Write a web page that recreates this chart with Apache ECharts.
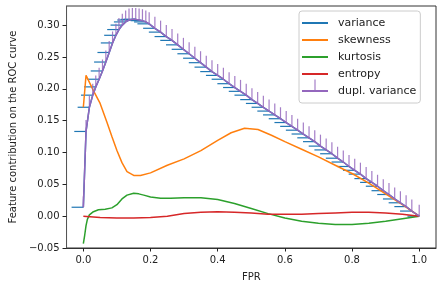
<!DOCTYPE html>
<html>
<head>
<meta charset="utf-8">
<script src="https://cdn.jsdelivr.net/npm/echarts@6/dist/echarts.min.js"></script>
<style>
html,body{margin:0;padding:0;background:#fff;}
#chart{width:443px;height:290px;}
</style>
</head>
<body>
<div id="chart"></div>
<script>
// ---- data ----
const fpr = [0, 0.008, 0.018, 0.028, 0.037, 0.047, 0.057, 0.067, 0.077, 0.087, 0.097, 0.106, 0.116, 0.126, 0.136, 0.146, 0.156, 0.166, 0.176, 0.186, 0.196,
  0.213, 0.23, 0.247, 0.264, 0.281, 0.298, 0.315, 0.332, 0.349, 0.366, 0.383, 0.4, 0.417, 0.434, 0.451, 0.468, 0.485, 0.502, 0.519, 0.536, 0.553, 0.57, 0.587, 0.604, 0.621, 0.638, 0.655, 0.672, 0.689, 0.706, 0.723, 0.74, 0.757, 0.774, 0.791, 0.808, 0.825, 0.842, 0.859, 0.876, 0.893, 0.91, 0.927, 0.944, 0.961, 0.978, 1.0];
const variance = [0.014, 0.133, 0.171, 0.190, 0.203, 0.215, 0.228, 0.242, 0.257, 0.272, 0.284, 0.293, 0.300, 0.305, 0.308, 0.309, 0.309, 0.308, 0.307, 0.305, 0.302,
  0.295, 0.289, 0.282, 0.276, 0.269, 0.262, 0.255, 0.248, 0.241, 0.234, 0.227, 0.221, 0.215, 0.208, 0.202, 0.196, 0.190, 0.183, 0.177, 0.171, 0.165, 0.159, 0.153, 0.147, 0.141, 0.135, 0.129, 0.123, 0.117, 0.110, 0.104, 0.098, 0.091, 0.085, 0.078, 0.072, 0.066, 0.059, 0.053, 0.047, 0.040, 0.034, 0.027, 0.021, 0.015, 0.008, 0.0];
const varianceXErr = 0.035;
const duplVarianceYErr = 0.018;

const skewX = [0, 0.008, 0.03, 0.05, 0.07, 0.085, 0.1, 0.115, 0.13, 0.15, 0.17, 0.2, 0.25, 0.3, 0.35, 0.4, 0.44, 0.48, 0.52, 0.56, 0.6, 0.65, 0.7, 0.75, 0.8, 0.85, 0.9, 0.95, 1.0];
const skewness = [0.171, 0.221, 0.197, 0.177, 0.148, 0.125, 0.103, 0.084, 0.070, 0.064, 0.064, 0.068, 0.080, 0.090, 0.103, 0.119, 0.131, 0.138, 0.136, 0.127, 0.117, 0.105, 0.093, 0.080, 0.067, 0.052, 0.035, 0.018, 0.0];

const kurtX = [0, 0.004, 0.008, 0.012, 0.018, 0.03, 0.045, 0.065, 0.085, 0.1, 0.115, 0.13, 0.15, 0.165, 0.18, 0.2, 0.23, 0.26, 0.3, 0.35, 0.4, 0.45, 0.5, 0.55, 0.6, 0.65, 0.7, 0.75, 0.8, 0.85, 0.9, 0.95, 1.0];
const kurtosis = [-0.043, -0.030, -0.015, -0.005, 0.002, 0.007, 0.010, 0.011, 0.013, 0.018, 0.027, 0.033, 0.036, 0.035, 0.033, 0.030, 0.028, 0.028, 0.029, 0.029, 0.026, 0.020, 0.012, 0.004, -0.003, -0.008, -0.011, -0.013, -0.013, -0.011, -0.008, -0.004, 0.0];

const entX = [0, 0.05, 0.1, 0.15, 0.2, 0.25, 0.3, 0.35, 0.4, 0.45, 0.5, 0.55, 0.6, 0.65, 0.7, 0.75, 0.8, 0.85, 0.9, 0.95, 1.0];
const entropy = [0.0, -0.002, -0.003, -0.003, -0.002, 0.0, 0.004, 0.006, 0.007, 0.006, 0.005, 0.003, 0.003, 0.003, 0.004, 0.005, 0.006, 0.006, 0.005, 0.003, 0.0];

const xTicks = [0, 0.2, 0.4, 0.6, 0.8, 1.0];
const yTicks = [-0.05, 0, 0.05, 0.10, 0.15, 0.20, 0.25, 0.30];
const seriesNames = ['variance', 'skewness', 'kurtosis', 'entropy', 'dupl. variance'];

// ---- chart ----
const FONT = 'DejaVu Sans';
const pairs = (xs, ys) => xs.map((x, i) => [x, ys[i]]);
const C = { blue: '#1f77b4', orange: '#ff7f0e', green: '#2ca02c', red: '#d62728', purple: '#9467bd' };
const lineIcon = 'path://M0,0L0,0.01M0,11L26,11L26,13L0,13ZM0,24L0,24.01';
const errIcon = 'path://M0,0L0,0.01M12.5,0.5L13.5,0.5L13.5,11L12.5,11ZM0,11L26,11L26,13L0,13ZM0,24L0,24.01';

const chart = echarts.init(document.getElementById('chart'), null, { renderer: 'canvas' });
const lineSeries = (name, data, color, z) => ({
  name, type: 'line', data, symbol: 'none', showSymbol: false, z,
  lineStyle: { color, width: 1.5 }, itemStyle: { color }, emphasis: { disabled: true }
});

chart.setOption({
  animation: false,
  textStyle: { fontFamily: FONT },
  grid: { left: 65.5, right: 7, top: 6, bottom: 42, show: true, borderColor: '#333', borderWidth: 1, backgroundColor: 'transparent' },
  xAxis: {
    type: 'value', min: -0.05, max: 1.05,
    name: 'FPR', nameLocation: 'middle', nameGap: 24,
    nameTextStyle: { fontFamily: FONT, fontSize: 10, color: '#222' },
    axisLine: { show: true, onZero: false, lineStyle: { color: '#333', width: 1 } },
    axisTick: { show: true, length: 3.5, inside: false, lineStyle: { color: '#222', width: 1 }, customValues: xTicks },
    axisLabel: { fontFamily: FONT, fontSize: 10, color: '#222', margin: 7, customValues: xTicks, formatter: v => v.toFixed(1) },
    splitLine: { show: false }
  },
  yAxis: {
    type: 'value', min: -0.05, max: 0.33, interval: 0.05,
    name: 'Feature contribution on the ROC curve', nameLocation: 'middle', nameGap: 48, nameRotate: 90,
    nameTextStyle: { fontFamily: FONT, fontSize: 10, color: '#222' },
    axisLine: { show: true, onZero: false, lineStyle: { color: '#555', width: 1 } },
    axisTick: { show: true, length: 4, lineStyle: { color: '#222', width: 1 } },
    axisLabel: { fontFamily: FONT, fontSize: 10, color: '#222', margin: 7, showMaxLabel: false,
      formatter: v => (v < 0 ? '\u2212' : '') + Math.abs(v).toFixed(2) },
    splitLine: { show: false }
  },
  legend: {
    orient: 'vertical', left: 299, top: 11,
    padding: [0, 4, 0, 3], itemGap: -7, itemWidth: 26, itemHeight: 24,
    symbolKeepAspect: false,
    backgroundColor: 'rgba(255,255,255,0.8)', borderColor: '#cccccc', borderWidth: 1, borderRadius: 3,
    textStyle: { fontFamily: FONT, fontSize: 11, color: '#222', padding: [0, 0, 0, 5] },
    data: seriesNames.map((n, i) => ({ name: n, icon: i === 4 ? errIcon : lineIcon })),
    selectedMode: false
  },
  series: [
    lineSeries(seriesNames[0], pairs(fpr, variance), C.blue, 2),
    {
      name: 'variance-xerr', type: 'custom', z: 2,
      data: fpr.map((x, i) => [x, variance[i], varianceXErr]),
      encode: { x: 0, y: 1 },
      renderItem: (params, api) => {
        const x = api.value(0), y = api.value(1), e = api.value(2);
        const p1 = api.coord([x - e, y]);
        const p2 = api.coord([x, y]);
        return { type: 'line', shape: { x1: p1[0], y1: p1[1], x2: p2[0], y2: p2[1] },
          style: { stroke: C.blue, lineWidth: 1.2 } };
      }
    },
    lineSeries(seriesNames[1], pairs(skewX, skewness), C.orange, 3),
    lineSeries(seriesNames[2], pairs(kurtX, kurtosis), C.green, 4),
    lineSeries(seriesNames[3], pairs(entX, entropy), C.red, 5),
    lineSeries(seriesNames[4], pairs(fpr, variance), C.purple, 6),
    {
      name: 'dupl-yerr', type: 'custom', z: 6,
      data: fpr.map((x, i) => [x, variance[i], duplVarianceYErr]),
      encode: { x: 0, y: 1 },
      renderItem: (params, api) => {
        const x = api.value(0), y = api.value(1), e = api.value(2);
        const p1 = api.coord([x, y]);
        const p2 = api.coord([x, y + e]);
        return { type: 'line', shape: { x1: p1[0], y1: p1[1], x2: p2[0], y2: p2[1] },
          style: { stroke: C.purple, lineWidth: 1.2, opacity: 0.85 } };
      }
    }
  ]
});
</script>
</body>
</html>
